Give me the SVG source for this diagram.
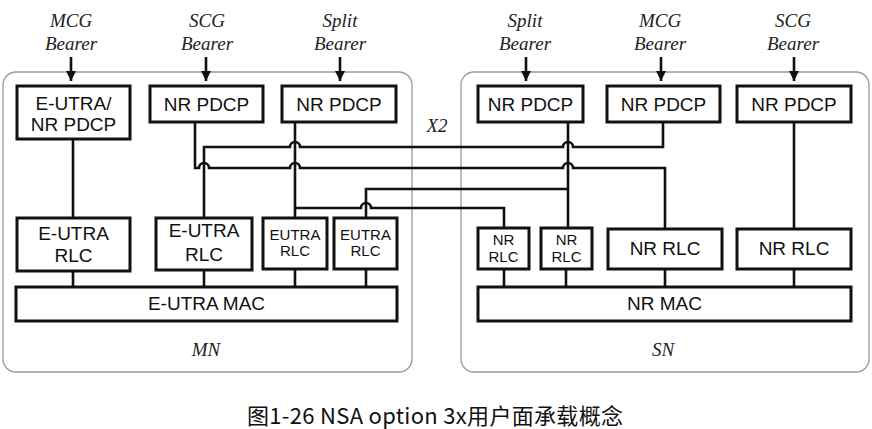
<svg xmlns="http://www.w3.org/2000/svg" width="872" height="429" viewBox="0 0 872 429">
<style>
.cont{fill:none;stroke:#9a9a9a;stroke-width:1.3}
.box{fill:#fff;stroke:#111;stroke-width:3}
.t{font-family:"Liberation Sans",Arial,sans-serif;font-size:19px;fill:#111;text-anchor:middle}
.ts{font-family:"Liberation Sans",Arial,sans-serif;font-size:15px;fill:#111;text-anchor:middle}
.it{font-family:"Liberation Serif","Times New Roman",serif;font-style:italic;font-size:19px;fill:#222;text-anchor:middle}
.ln{fill:none;stroke:#111;stroke-width:2.6}
.cap{font-family:"Noto Sans CJK SC",sans-serif;font-size:22px;fill:#111}
</style>
<defs>
<marker id="ah" viewBox="0 0 10 10" refX="10" refY="5" markerWidth="11" markerHeight="10" orient="auto" markerUnits="userSpaceOnUse">
<path d="M0,0 L10,5 L0,10 z" fill="#111"/>
</marker>
</defs>
<rect id="MN" class="cont" x="3" y="72" width="409" height="300" rx="13"/>
<rect id="SN" class="cont" x="461" y="72" width="408" height="300" rx="13"/>
<text class="it" x="206" y="356" font-size="17">MN</text>
<text class="it" x="663" y="356" font-size="17">SN</text>
<text class="it" x="437" y="132" font-size="17">X2</text>

<g id="bearers">
<text class="it" x="71" y="27">MCG</text><text class="it" x="71" y="50">Bearer</text>
<text class="it" x="207" y="27">SCG</text><text class="it" x="207" y="50">Bearer</text>
<text class="it" x="340" y="27">Split</text><text class="it" x="340" y="50">Bearer</text>
<text class="it" x="525" y="27">Split</text><text class="it" x="525" y="50">Bearer</text>
<text class="it" x="660" y="27">MCG</text><text class="it" x="660" y="50">Bearer</text>
<text class="it" x="793" y="27">SCG</text><text class="it" x="793" y="50">Bearer</text>
</g>

<g id="connectors">
<path class="ln" d="M71 57V81" marker-end="url(#ah)"/>
<path class="ln" d="M206 57V81" marker-end="url(#ah)"/>
<path class="ln" d="M340 57V81" marker-end="url(#ah)"/>
<path class="ln" d="M526 57V81" marker-end="url(#ah)"/>
<path class="ln" d="M661 57V81" marker-end="url(#ah)"/>
<path class="ln" d="M794 57V81" marker-end="url(#ah)"/>
<path class="ln" d="M73 139V218"/>
<path class="ln" d="M195 122V168H199a5 5 0 0 1 10 0H290a5 5 0 0 1 10 0H563a5 5 0 0 1 10 0H665V229"/>
<path class="ln" d="M204 218V147H290a5 5 0 0 1 10 0H563a5 5 0 0 1 10 0H663V122"/>
<path class="ln" d="M295 122V218"/>
<path class="ln" d="M295 208H361a5 5 0 0 1 10 0H504V228"/>
<path class="ln" d="M568 122V228"/>
<path class="ln" d="M568 189H366V218"/>
<path class="ln" d="M794 122V229"/>
<path class="ln" d="M73 271V287M204 270V287M295 269V287M366 269V287M504 269V287M566 269V287M665 269V287M794 269V287"/>
</g>

<g id="mn-pdcp-mcg"><rect class="box" x="17" y="86" width="113" height="53"/><text class="t" x="73.5" y="110">E-UTRA/</text><text class="t" x="73.5" y="131">NR PDCP</text></g>
<g id="mn-pdcp-scg"><rect class="box" x="150" y="86" width="113" height="36"/><text class="t" x="206.5" y="111">NR PDCP</text></g>
<g id="mn-pdcp-split"><rect class="box" x="282" y="86" width="114" height="36"/><text class="t" x="339" y="111">NR PDCP</text></g>
<g id="sn-pdcp-split"><rect class="box" x="478" y="86" width="105" height="36"/><text class="t" x="530.5" y="111">NR PDCP</text></g>
<g id="sn-pdcp-mcg"><rect class="box" x="607" y="86" width="113" height="36"/><text class="t" x="663.5" y="111">NR PDCP</text></g>
<g id="sn-pdcp-scg"><rect class="box" x="737" y="86" width="114" height="36"/><text class="t" x="794" y="111">NR PDCP</text></g>

<g id="mn-rlc-1"><rect class="box" x="17" y="218" width="113" height="53"/><text class="t" x="73.5" y="240">E-UTRA</text><text class="t" x="73.5" y="262">RLC</text></g>
<g id="mn-rlc-2"><rect class="box" x="156" y="218" width="96" height="52"/><text class="t" x="204" y="237">E-UTRA</text><text class="t" x="204" y="261">RLC</text></g>
<g id="mn-rlc-3"><rect class="box" x="263" y="218" width="64" height="51"/><text class="ts" x="295" y="240">EUTRA</text><text class="ts" x="295" y="256">RLC</text></g>
<g id="mn-rlc-4"><rect class="box" x="334" y="218" width="63" height="51"/><text class="ts" x="365.5" y="240">EUTRA</text><text class="ts" x="365.5" y="256">RLC</text></g>
<g id="mn-mac"><rect class="box" x="16" y="287" width="381" height="34"/><text class="t" x="206.5" y="310">E-UTRA MAC</text></g>

<g id="sn-rlc-1"><rect class="box" x="478" y="228" width="51" height="41"/><text class="ts" x="503.5" y="245">NR</text><text class="ts" x="503.5" y="262">RLC</text></g>
<g id="sn-rlc-2"><rect class="box" x="541" y="228" width="51" height="41"/><text class="ts" x="566.5" y="245">NR</text><text class="ts" x="566.5" y="262">RLC</text></g>
<g id="sn-rlc-3"><rect class="box" x="608" y="229" width="114" height="40"/><text class="t" x="665" y="255">NR RLC</text></g>
<g id="sn-rlc-4"><rect class="box" x="737" y="229" width="114" height="40"/><text class="t" x="794" y="255">NR RLC</text></g>
<g id="sn-mac"><rect class="box" x="478" y="287" width="373" height="34"/><text class="t" x="664.5" y="310">NR MAC</text></g>

<text class="cap" x="247" y="424" textLength="376" lengthAdjust="spacing">图1-26 NSA option 3x用户面承载概念</text>
</svg>
